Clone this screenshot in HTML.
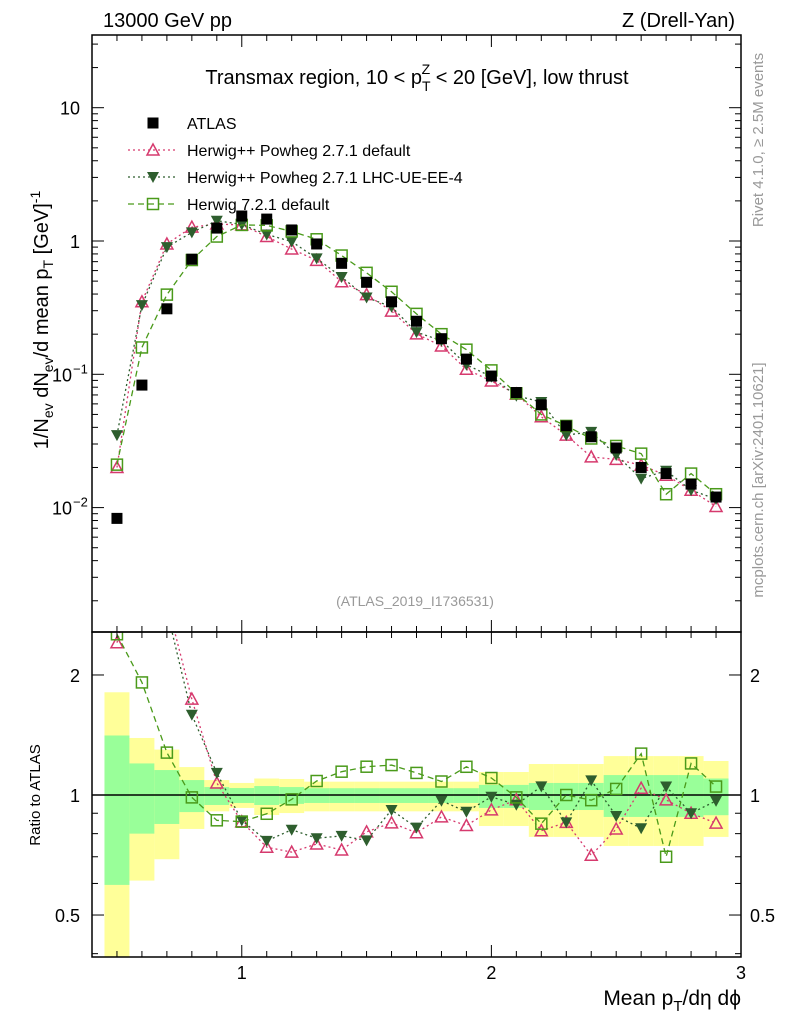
<!DOCTYPE html>
<html><head><meta charset="utf-8"><style>
body{margin:0;background:#fff;}
svg{display:block;font-family:"Liberation Sans",sans-serif;}
</style></head><body>
<svg id="c" width="786" height="1024" xmlns="http://www.w3.org/2000/svg">
<g id="bands"></g>
<g id="marks"></g>
<g id="axes"></g>
<text x="103" y="27" font-size="20">13000 GeV pp</text>
<text x="735" y="27" font-size="20" text-anchor="end">Z (Drell-Yan)</text>
<text x="417" y="84" font-size="20" text-anchor="middle">Transmax region, 10 &lt; p<tspan font-size="14" dy="7">T</tspan><tspan font-size="14" dx="-9" dy="-17">Z</tspan><tspan dy="10"> &lt; 20 [GeV], low thrust</tspan></text>
<text x="415" y="606" font-size="14" fill="#999" text-anchor="middle">(ATLAS_2019_I1736531)</text>
<text transform="translate(763,140) rotate(-90)" font-size="15" fill="#999" text-anchor="middle">Rivet 4.1.0, ≥ 2.5M events</text>
<text transform="translate(763,480) rotate(-90)" font-size="15" fill="#999" text-anchor="middle">mcplots.cern.ch [arXiv:2401.10621]</text>
<text transform="translate(48,320) rotate(-90)" font-size="20" text-anchor="middle">1/N<tspan font-size="14" dy="5">ev</tspan><tspan dy="-5"> dN</tspan><tspan font-size="14" dy="5">ev</tspan><tspan dy="-5">/d mean p</tspan><tspan font-size="14" dy="5">T</tspan><tspan dy="-5"> [GeV]</tspan><tspan font-size="14" dy="-8">-1</tspan></text>
<text transform="translate(40,795) rotate(-90)" font-size="15" text-anchor="middle">Ratio to ATLAS</text>
<text x="741" y="1005" font-size="21" text-anchor="end">Mean p<tspan font-size="15" dy="6">T</tspan><tspan dy="-6">/dη dϕ</tspan></text>
<g id="legend"></g>
</svg>
<script>
const xs=[0.5,0.6,0.7,0.8,0.9,1.0,1.1,1.2,1.3,1.4,1.5,1.6,1.7,1.8,1.9,2.0,2.1,2.2,2.3,2.4,2.5,2.6,2.7,2.8,2.9];
const atlas=[0.0083,0.083,0.31,0.73,1.25,1.54,1.46,1.21,0.95,0.68,0.49,0.35,0.25,0.185,0.13,0.097,0.073,0.059,0.041,0.034,0.028,0.020,0.018,0.015,0.012];
const pink=[0.020,0.35,0.95,1.27,1.34,1.32,1.08,0.87,0.716,0.495,0.396,0.298,0.201,0.163,0.109,0.089,0.071,0.048,0.035,0.024,0.023,0.0208,0.0175,0.0135,0.0102];
const dark=[0.035,0.33,0.90,1.16,1.42,1.33,1.12,0.99,0.74,0.537,0.377,0.321,0.207,0.179,0.118,0.096,0.069,0.062,0.035,0.037,0.0248,0.0165,0.0189,0.0135,0.0116];
const light=[0.021,0.159,0.396,0.72,1.08,1.32,1.31,1.18,1.03,0.778,0.577,0.416,0.284,0.20,0.153,0.107,0.072,0.050,0.041,0.033,0.029,0.0254,0.0126,0.018,0.0126];
const yelUp=[1.81,1.39,1.30,1.175,1.09,1.072,1.10,1.097,1.08,1.08,1.08,1.08,1.08,1.08,1.08,1.142,1.142,1.196,1.196,1.196,1.252,1.252,1.252,1.252,1.217];
const yelDn=[0.38,0.61,0.69,0.822,0.91,0.928,0.891,0.901,0.91,0.91,0.91,0.91,0.91,0.91,0.91,0.836,0.836,0.785,0.785,0.785,0.745,0.745,0.745,0.745,0.785];
const grnUp=[1.41,1.20,1.155,1.09,1.047,1.041,1.053,1.047,1.04,1.04,1.04,1.04,1.04,1.04,1.04,1.06,1.06,1.072,1.072,1.072,1.122,1.122,1.122,1.122,1.10];
const grnDn=[0.595,0.80,0.846,0.906,0.944,0.955,0.944,0.95,0.955,0.955,0.955,0.955,0.955,0.955,0.955,0.928,0.928,0.917,0.917,0.917,0.881,0.881,0.881,0.881,0.89];
const ticksX=[1,2,3];
const ticksY=[10,1,0.1,0.01];
const ticksYLabels=["10","1","10","10"];
const ticksYExp=["","","−1","−2"];
const ticksR=[2,1,0.5];

const NS="http://www.w3.org/2000/svg";
const L=92,R=741,T=35,M=632,B=957;
const X=v=>L+(v-0.4)/(2.6)*(R-L);
const Y=v=>241-Math.log10(v)*133.3;
const RY=v=>795-Math.log10(v)*398.7;
function el(p,t,a){const e=document.createElementNS(NS,t);for(const k in a)e.setAttribute(k,a[k]);p.appendChild(e);return e;}
const bands=document.getElementById('bands'),marks=document.getElementById('marks'),axes=document.getElementById('axes'),leg=document.getElementById('legend');
const clampR=v=>Math.max(T,Math.min(B,v));
const rclip=v=>Math.max(M,Math.min(B,v));
// bands
xs.forEach((x,i)=>{
 let r=el(bands,'rect',{x:X(x-0.05),y:rclip(RY(yelUp[i])),width:X(x+0.05)-X(x-0.05),height:rclip(RY(yelDn[i]))-rclip(RY(yelUp[i])),fill:'#ffff99'});
 
 
 let g=el(bands,'rect',{x:X(x-0.05),y:rclip(RY(grnUp[i])),width:X(x+0.05)-X(x-0.05),height:rclip(RY(grnDn[i]))-rclip(RY(grnUp[i])),fill:'#99ff99'});
 
 
});
el(bands,'line',{x1:L,x2:R,y1:RY(1),y2:RY(1),stroke:'#000','stroke-width':1.5});
const series=[
 {d:pink,c:'#d63a6e',dash:'2,3',m:'tri',name:'herwigpp-default'},
 {d:dark,c:'#2e5e2e',dash:'2,3',m:'tridown',name:'herwigpp-lhc-ue'},
 {d:light,c:'#4a9a1a',dash:'6,4',m:'sq',name:'herwig7-default'}];
function marker(p,type,cx,cy,c){
 if(type==='tri')return el(p,'path',{d:`M${cx},${cy-6}L${cx+6},${cy+5}L${cx-6},${cy+5}Z`,fill:'none',stroke:c,'stroke-width':1.5});
 if(type==='tridown')return el(p,'path',{d:`M${cx-6},${cy-5}L${cx+6},${cy-5}L${cx},${cy+6}Z`,fill:c});
 if(type==='sq')return el(p,'rect',{x:cx-5.5,y:cy-5.5,width:11,height:11,fill:'none',stroke:c,'stroke-width':1.5});
 return el(p,'rect',{x:cx-5.5,y:cy-5.5,width:11,height:11,fill:'#000'});
}
const mainClip=el(document.getElementById('c'),'clipPath',{id:'cm'});el(mainClip,'rect',{x:L,y:T,width:R-L,height:M-T});
const ratClip=el(document.getElementById('c'),'clipPath',{id:'cr'});el(ratClip,'rect',{x:L,y:M,width:R-L,height:B-M});
const gm=el(marks,'g',{'clip-path':'url(#cm)'});
const gr=el(marks,'g',{'clip-path':'url(#cr)'});
series.forEach(s=>{
 const pts=xs.map((x,i)=>X(x)+','+Y(s.d[i])).join(' ');
 let pl=el(gm,'polyline',{points:pts,fill:'none',stroke:s.c,'stroke-width':1.3,'stroke-dasharray':s.dash});
 
 
 const rp=xs.map((x,i)=>X(x)+','+RY(s.d[i]/atlas[i])).join(' ');
 let rl=el(gr,'polyline',{points:rp,fill:'none',stroke:s.c,'stroke-width':1.3,'stroke-dasharray':s.dash});
 
 
 xs.forEach((x,i)=>{
  let m=marker(gm,s.m,X(x),Y(s.d[i]),s.c);
  
  
  let mr=marker(gr,s.m,X(x),RY(s.d[i]/atlas[i]),s.c);
  
  
 });
});
xs.forEach((x,i)=>{
 let m=marker(gm,'data',X(x),Y(atlas[i]),'#000');
 
 
});
// frames
[[T,M],[M,B]].forEach(([a,b])=>el(axes,'rect',{x:L,y:a,width:R-L,height:b-a,fill:'none',stroke:'#000','stroke-width':1.5}));
// x ticks
for(let k=5;k<=29;k++){const v=k/10;const major=(k%10===0);const len=major?12:6;const px=X(v);
 [M,B].forEach(yb=>{el(axes,'line',{x1:px,x2:px,y1:yb,y2:yb-len,stroke:'#000'});});
 [T,M].forEach(yt=>{el(axes,'line',{x1:px,x2:px,y1:yt,y2:yt+len,stroke:'#000'});});}
el(axes,'line',{x1:X(3),x2:X(3),y1:B,y2:B-12,stroke:'#000'});
ticksX.forEach(v=>{let t=el(axes,'text',{x:X(v),y:B+22,'font-size':18,'text-anchor':'middle'});t.textContent=String(v);
 
 });
// main y ticks
for(let e=-3;e<=1;e++){for(let m=1;m<=9;m++){const v=m*Math.pow(10,e);const py=Y(v);if(py<T||py>M)continue;const len=m===1?12:6;
 el(axes,'line',{x1:L,x2:L+len,y1:py,y2:py,stroke:'#000'});el(axes,'line',{x1:R,x2:R-len,y1:py,y2:py,stroke:'#000'});}}
ticksY.forEach((v,i)=>{let t=el(axes,'text',{x:ticksYExp[i]?72:80,y:Y(v)+7,'font-size':18,'text-anchor':'end'});t.textContent=ticksYLabels[i];
 
 
 if(ticksYExp[i]){let s=el(axes,'text',{x:73,y:Y(v)-1,'font-size':13});s.textContent=ticksYExp[i];}});
// ratio ticks
for(let e=-1;e<=0;e++){for(let m=1;m<=9;m++){const v=m*Math.pow(10,e);const py=RY(v);if(py<M||py>B)continue;const len=(v===1||v===2||v===0.5)?12:6;
 el(axes,'line',{x1:L,x2:L+len,y1:py,y2:py,stroke:'#000'});el(axes,'line',{x1:R,x2:R-len,y1:py,y2:py,stroke:'#000'});}}
ticksR.forEach(v=>{let t=el(axes,'text',{x:80,y:RY(v)+7,'font-size':18,'text-anchor':'end'});t.textContent=String(v);
 
 
 let t2=el(axes,'text',{x:750,y:RY(v)+7,'font-size':18});t2.textContent=String(v);
 
 });
// legend
const legItems=[['data','#000','','ATLAS'],['tri','#d63a6e','2,3','Herwig++ Powheg 2.7.1 default'],['tridown','#2e5e2e','2,3','Herwig++ Powheg 2.7.1 LHC-UE-EE-4'],['sq','#4a9a1a','6,4','Herwig 7.2.1 default']];
legItems.forEach((it,i)=>{const y=123+i*27;const g=el(leg,'g',{});
 
 
 if(i>0)el(g,'line',{x1:128,x2:178,y1:y,y2:y,stroke:it[1],'stroke-width':1.3,'stroke-dasharray':it[2]});
 marker(g,it[0],153,y,it[1]);
 let t=el(g,'text',{x:187,y:y+6,'font-size':16});t.textContent=it[3];});
</script>
</body></html>
